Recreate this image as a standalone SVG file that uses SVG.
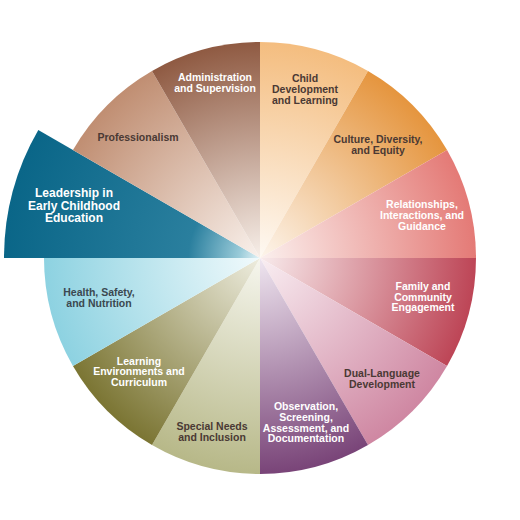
<svg xmlns="http://www.w3.org/2000/svg" width="520" height="520" viewBox="0 0 520 520">
<style>
text{font-family:"Liberation Sans Narrow","Liberation Sans",Arial,sans-serif;font-weight:bold;font-size:10.5px;text-anchor:middle}
.w{fill:#ffffff}
.d{fill:#4a3934}
.big{font-size:12px}
</style>
<defs>
<radialGradient id="gAdm" gradientUnits="userSpaceOnUse" cx="260" cy="258" r="216"><stop offset="0" stop-color="#f7efe9"/><stop offset="1" stop-color="#8f5a42"/></radialGradient>
<radialGradient id="gPro" gradientUnits="userSpaceOnUse" cx="260" cy="258" r="216"><stop offset="0" stop-color="#f9f1ec"/><stop offset="1" stop-color="#c08e72"/></radialGradient>
<radialGradient id="gLea" gradientUnits="userSpaceOnUse" cx="260" cy="258" r="256"><stop offset="0" stop-color="#e6f4f7"/><stop offset="0.08" stop-color="#9acbd9"/><stop offset="0.28" stop-color="#2a7f9e"/><stop offset="1" stop-color="#0a6688"/></radialGradient>
<radialGradient id="gHea" gradientUnits="userSpaceOnUse" cx="260" cy="258" r="216"><stop offset="0" stop-color="#f1fafc"/><stop offset="1" stop-color="#8dd2e1"/></radialGradient>
<radialGradient id="gLen" gradientUnits="userSpaceOnUse" cx="260" cy="258" r="216"><stop offset="0" stop-color="#eeeddf"/><stop offset="1" stop-color="#7b7533"/></radialGradient>
<radialGradient id="gSpe" gradientUnits="userSpaceOnUse" cx="260" cy="258" r="216"><stop offset="0" stop-color="#f6f6ee"/><stop offset="1" stop-color="#b7b888"/></radialGradient>
<radialGradient id="gObs" gradientUnits="userSpaceOnUse" cx="260" cy="258" r="216"><stop offset="0" stop-color="#efe6f0"/><stop offset="1" stop-color="#794478"/></radialGradient>
<radialGradient id="gDua" gradientUnits="userSpaceOnUse" cx="260" cy="258" r="216"><stop offset="0" stop-color="#f9eef2"/><stop offset="1" stop-color="#cf87a2"/></radialGradient>
<radialGradient id="gFam" gradientUnits="userSpaceOnUse" cx="260" cy="258" r="216"><stop offset="0" stop-color="#f8ebec"/><stop offset="1" stop-color="#bd4556"/></radialGradient>
<radialGradient id="gRel" gradientUnits="userSpaceOnUse" cx="260" cy="258" r="216"><stop offset="0" stop-color="#fbf0ee"/><stop offset="1" stop-color="#e47a76"/></radialGradient>
<radialGradient id="gCul" gradientUnits="userSpaceOnUse" cx="260" cy="258" r="216"><stop offset="0" stop-color="#fdf5ec"/><stop offset="1" stop-color="#e5953e"/></radialGradient>
<radialGradient id="gChi" gradientUnits="userSpaceOnUse" cx="260" cy="258" r="216"><stop offset="0" stop-color="#fef9f3"/><stop offset="1" stop-color="#f4bd7f"/></radialGradient>
</defs>
<g id="child"><path d="M260,258 L260,42 A216,216 0 0 1 368,70.94 Z" fill="url(#gChi)"/><text class="d"><tspan x="305" y="82">Child</tspan><tspan x="305" y="93">Development</tspan><tspan x="305" y="104">and Learning</tspan></text></g>
<g id="culture"><path d="M260,258 L368,70.94 A216,216 0 0 1 447.06,150 Z" fill="url(#gCul)"/><text class="d"><tspan x="378" y="143">Culture, Diversity,</tspan><tspan x="378" y="154">and Equity</tspan></text></g>
<g id="relationships"><path d="M260,258 L447.06,150 A216,216 0 0 1 476,258 Z" fill="url(#gRel)"/><text class="w"><tspan x="422" y="208">Relationships,</tspan><tspan x="422" y="219">Interactions, and</tspan><tspan x="422" y="230">Guidance</tspan></text></g>
<g id="family"><path d="M260,258 L476,258 A216,216 0 0 1 447.06,366 Z" fill="url(#gFam)"/><text class="w"><tspan x="423" y="289.5">Family and</tspan><tspan x="423" y="300.5">Community</tspan><tspan x="423" y="311">Engagement</tspan></text></g>
<g id="dual"><path d="M260,258 L447.06,366 A216,216 0 0 1 368,445.06 Z" fill="url(#gDua)"/><text class="d"><tspan x="382" y="376.5">Dual-Language</tspan><tspan x="382" y="387.5">Development</tspan></text></g>
<g id="observation"><path d="M260,258 L368,445.06 A216,216 0 0 1 260,474 Z" fill="url(#gObs)"/><text class="w"><tspan x="306" y="409.5">Observation,</tspan><tspan x="306" y="420.5">Screening,</tspan><tspan x="306" y="431.5">Assessment, and</tspan><tspan x="306" y="442">Documentation</tspan></text></g>
<g id="special"><path d="M260,258 L260,474 A216,216 0 0 1 152,445.06 Z" fill="url(#gSpe)"/><text class="d"><tspan x="212" y="430">Special Needs</tspan><tspan x="212" y="440.5">and Inclusion</tspan></text></g>
<g id="learning"><path d="M260,258 L152,445.06 A216,216 0 0 1 72.94,366 Z" fill="url(#gLen)"/><text class="w"><tspan x="139" y="364.5">Learning</tspan><tspan x="139" y="375">Environments and</tspan><tspan x="139" y="386">Curriculum</tspan></text></g>
<g id="health"><path d="M260,258 L72.94,366 A216,216 0 0 1 44,258 Z" fill="url(#gHea)"/><text class="d" style="fill:#3b4850"><tspan x="99" y="296">Health, Safety,</tspan><tspan x="99" y="306.5">and Nutrition</tspan></text></g>
<g id="leadership"><path d="M260,258 L4,258 A256,256 0 0 1 38.3,130 Z" fill="url(#gLea)"/><text class="w big"><tspan x="74" y="197">Leadership in</tspan><tspan x="74" y="209.5">Early Childhood</tspan><tspan x="74" y="222">Education</tspan></text></g>
<g id="professionalism"><path d="M260,258 L72.94,150 A216,216 0 0 1 152,70.94 Z" fill="url(#gPro)"/><text class="d"><tspan x="138" y="140.5">Professionalism</tspan></text></g>
<g id="administration"><path d="M260,258 L152,70.94 A216,216 0 0 1 260,42 Z" fill="url(#gAdm)"/><text class="w"><tspan x="215" y="80.5">Administration</tspan><tspan x="215" y="91.5">and Supervision</tspan></text></g>
<g id="connectors"></g>
</svg>
